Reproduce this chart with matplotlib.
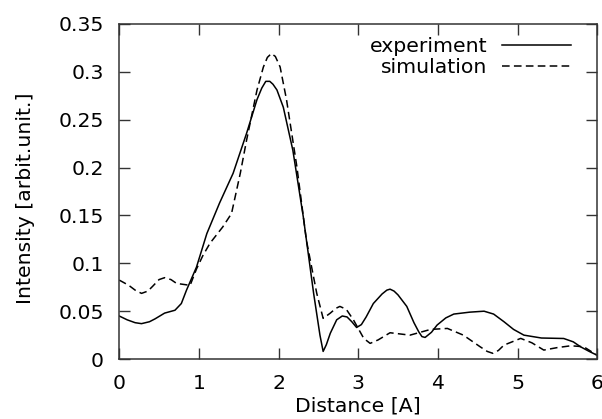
import matplotlib
matplotlib.use("Agg")
import matplotlib.pyplot as plt

plt.rcParams['font.family'] = ['DejaVu Sans']

# experiment (solid)
exp_x = [0.0, 0.10, 0.20, 0.28, 0.38, 0.45, 0.57, 0.70, 0.78, 0.845, 0.97, 1.10, 1.26, 1.43,
         1.60, 1.73, 1.79, 1.84, 1.89, 1.93, 1.98, 2.06, 2.18, 2.31, 2.44, 2.52, 2.56,
         2.60, 2.65, 2.73, 2.80, 2.86, 2.92, 2.98, 3.04, 3.10, 3.19, 3.30, 3.36, 3.40,
         3.45, 3.50, 3.61, 3.70, 3.76, 3.80, 3.84, 3.92, 3.99, 4.10, 4.20, 4.40, 4.58,
         4.70, 4.83, 4.95, 5.08, 5.30, 5.58, 5.70, 5.79, 5.90, 6.0]
exp_y = [0.045, 0.041, 0.038, 0.037, 0.039, 0.042, 0.048, 0.051, 0.058, 0.072, 0.096,
         0.131, 0.163, 0.194, 0.236, 0.271, 0.283, 0.290, 0.290, 0.287, 0.281, 0.263,
         0.218, 0.149, 0.069, 0.025, 0.008, 0.015, 0.027, 0.041, 0.045, 0.044, 0.039,
         0.033, 0.036, 0.044, 0.058, 0.068, 0.072, 0.073, 0.071, 0.067, 0.055, 0.038,
         0.0285, 0.0235, 0.0226, 0.028, 0.0355, 0.043, 0.047, 0.049, 0.050, 0.047,
         0.039, 0.031, 0.025, 0.022, 0.0215, 0.018, 0.0129, 0.008, 0.004]

# simulation (dashed)
sim_x = [0.0, 0.12, 0.20, 0.28, 0.36, 0.42, 0.50, 0.57, 0.65, 0.72, 0.89, 0.97, 1.05,
         1.14, 1.30, 1.41, 1.52, 1.60, 1.73, 1.81, 1.86, 1.91, 1.96, 2.02, 2.10, 2.23,
         2.35, 2.48, 2.56, 2.65, 2.72, 2.77, 2.85, 2.94, 3.07, 3.15, 3.25, 3.40, 3.65,
         3.91, 4.12, 4.32, 4.53, 4.62, 4.69, 4.76, 4.83, 5.04, 5.18, 5.33, 5.50, 5.67,
         5.83, 6.0]
sim_y = [0.0825, 0.077, 0.072, 0.0686, 0.071, 0.076, 0.083, 0.085, 0.083, 0.079, 0.077,
         0.094, 0.108, 0.121, 0.138, 0.152, 0.194, 0.229, 0.281, 0.305, 0.315, 0.319,
         0.316, 0.305, 0.271, 0.201, 0.124, 0.0686, 0.0425, 0.048, 0.053, 0.055, 0.052,
         0.041, 0.0216, 0.0164, 0.020, 0.0275, 0.025, 0.031, 0.032, 0.025, 0.0129, 0.008,
         0.006, 0.009, 0.0146, 0.0216, 0.017, 0.0094, 0.012, 0.0139, 0.0129, 0.004]

x_ticks = [0, 1, 2, 3, 4, 5, 6]
y_ticks = [0, 0.05, 0.1, 0.15, 0.2, 0.25, 0.3, 0.35]
y_tick_labels = ['0', '0.05', '0.1', '0.15', '0.2', '0.25', '0.3', '0.35']

fs = 14.7

fig = plt.figure(figsize=(6.02, 4.19), dpi=100)
ax = fig.add_axes([0.198, 0.143, 0.794, 0.800])

ax.plot(exp_x, exp_y, color='black', lw=1.1, label='experiment')
ax.plot(sim_x, sim_y, color='black', lw=1.1, dashes=(5, 2.8), label='simulation')

ax.set_xlim(0, 6)
ax.set_ylim(0, 0.35)
ax.set_xticks(x_ticks)
ax.set_yticks(y_ticks)
ax.set_yticklabels(y_tick_labels)
ax.tick_params(direction='in', length=8, width=1, top=True, right=True,
               labelsize=fs, color='#333333')
ax.tick_params(axis='x', pad=11)
ax.tick_params(axis='y', pad=11)
for s in ax.spines.values():
    s.set_linewidth(1.1)
    s.set_color('#333333')

ax.set_xlabel('Distance [A]', fontsize=fs)
ax.set_ylabel('Intensity [arbit.unit.]', fontsize=fs)
ax.xaxis.set_label_coords(0.5, -0.112)
ax.yaxis.set_label_coords(-0.177, 0.48)

leg = ax.legend(loc='upper right', frameon=False, markerfirst=False, fontsize=fs,
                handlelength=3.4, handletextpad=0.7, labelspacing=0.12,
                borderpad=0, borderaxespad=0,
                bbox_to_anchor=(571 / 602, (419 - 37) / 419),
                bbox_transform=fig.transFigure)
for t in leg.get_texts():
    t.set_ha('right')

fig.savefig('out.png', dpi=100)
